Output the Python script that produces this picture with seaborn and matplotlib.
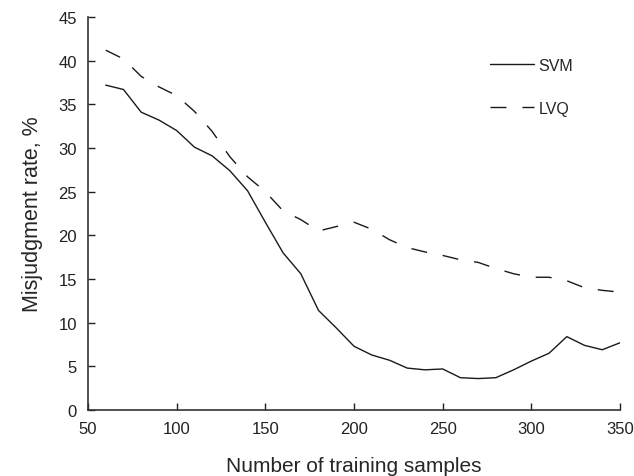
import numpy as np
import pandas as pd
import matplotlib
matplotlib.use('Agg')
import matplotlib.pyplot as plt
import seaborn as sns

# 데이터
samples = [60, 70, 80, 90, 100, 110, 120, 130, 140, 150, 160, 170, 180, 190, 200,
           210, 220, 230, 240, 250, 260, 270, 280, 290, 300, 310, 320, 330, 340, 350]
svm_rate = [37.2, 36.7, 34.1, 33.2, 32.0, 30.1, 29.1, 27.4, 25.1, 21.5, 18.0, 15.6, 11.4, 9.4, 7.3,
            6.3, 5.7, 4.8, 4.6, 4.7, 3.7, 3.6, 3.7, 4.6, 5.6, 6.5, 8.4, 7.4, 6.9, 7.7]
lvq_rate = [41.2, 40.2, 38.2, 37.0, 36.0, 34.2, 31.9, 29.0, 26.7, 25.0, 22.8, 21.8, 20.5, 21.0, 21.5,
            20.7, 19.5, 18.6, 18.1, 17.7, 17.2, 16.9, 16.2, 15.6, 15.2, 15.2, 14.8, 14.0, 13.7, 13.5]
x_ticks = [50, 100, 150, 200, 250, 300, 350]
y_ticks = [0, 5, 10, 15, 20, 25, 30, 35, 40, 45]

sns.set_style('ticks')
plt.rcParams['font.family'] = ['Liberation Sans', 'DejaVu Sans']

fig = plt.figure(figsize=(6.34, 4.77), dpi=100)
ax = fig.add_axes([88 / 634, 1 - 411 / 477, (620 - 88) / 634, (411 - 18) / 477])

sns.lineplot(x=samples, y=svm_rate, color='#1a1a1a', lw=1.0, label='SVM', ax=ax)
sns.lineplot(x=samples, y=lvq_rate, color='#1a1a1a', lw=1.0, linestyle=(0, (11.5, 11.5)),
             label='LVQ', ax=ax)

ax.set_xlim(50, 350)
ax.set_ylim(0, 45)
ax.set_xticks(x_ticks)
ax.set_yticks(y_ticks)
ax.tick_params(direction='in', length=5, width=1, labelsize=12, colors='#222222')
ax.tick_params(axis='x', pad=8)
ax.tick_params(axis='y', pad=8)
sns.despine(ax=ax)
for s in ['left', 'bottom']:
    ax.spines[s].set_linewidth(1.2)
    ax.spines[s].set_color('#333333')

ax.set_xlabel('Number of training samples', fontsize=15, labelpad=14)
ax.set_ylabel('Misjudgment rate, %', fontsize=15.5, labelpad=11)

ax.legend(loc='upper left', bbox_to_anchor=(490 / 634, 1 - 59 / 477), bbox_transform=fig.transFigure,
          frameon=False, fontsize=11.5, handlelength=2.75, handletextpad=0.3, labelspacing=1.75,
          borderpad=0, borderaxespad=0)

fig.savefig('out.png', dpi=100)
